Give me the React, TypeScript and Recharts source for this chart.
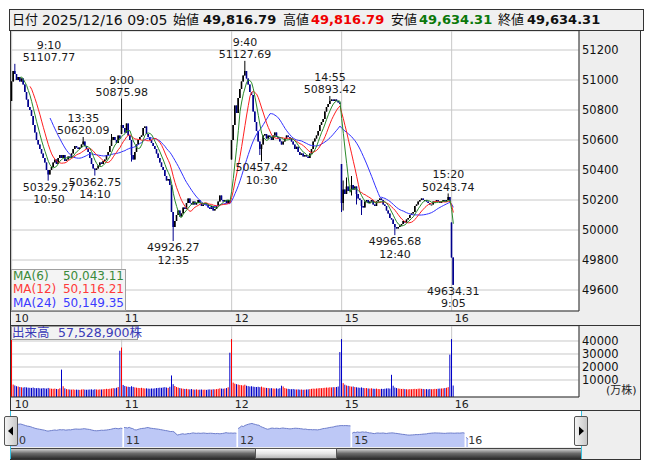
import {
    ComposedChart,
    AreaChart,
    Area,
    Bar,
    Line,
    XAxis,
    YAxis,
    CartesianGrid,
    ReferenceDot
} from 'recharts'

const FONT = '"DejaVu Sans", "Noto Sans CJK JP", sans-serif'
const BARS_PER_DAY = 66

const dayLabels = ['10', '11', '12', '15', '16']
const dayTicks = [0, 66, 132, 198, 264]

// 5-minute closes per day (9:00 .. 15:25)
const day10Close = [
    50990, 51060, 51040, 51000, 51020, 50990, 51010, 50970, 50920, 50870,
    50820, 50800, 50760, 50700, 50650, 50600, 50570, 50540, 50510, 50480,
    50450, 50400, 50370, 50400, 50420, 50450, 50470, 50440, 50480, 50500,
    50480, 50500, 50460, 50470, 50490, 50480, 50510, 50540, 50560, 50550,
    50540, 50550, 50570, 50590, 50560, 50540, 50520, 50480, 50440, 50410,
    50400, 50410, 50430, 50450, 50440, 50460, 50470, 50500, 50520, 50560,
    50600, 50620, 50600, 50580, 50630, 50610
]
const day11Close = [
    50700, 50680, 50650, 50710, 50630, 50600, 50500, 50470, 50520, 50570,
    50600, 50620, 50630, 50680, 50690, 50640, 50620, 50600, 50580, 50560,
    50540, 50510, 50480, 50450, 50420, 50400, 50360, 50330, 50340, 50300,
    50120, 50020, 50060, 50100, 50130, 50090, 50110, 50150, 50140, 50180,
    50210, 50180, 50170, 50190, 50170, 50180, 50200, 50180, 50160, 50170,
    50180, 50170, 50150, 50140, 50160, 50130, 50140, 50160, 50190, 50230,
    50200, 50190, 50200, 50180, 50200, 50180
]
const day12Close = [
    50600, 50700, 50830, 50780, 50880, 50940, 50990, 51030, 51060, 51010,
    50970, 50920, 50900, 50790, 50720, 50660, 50590, 50540, 50570, 50630,
    50640, 50610, 50630, 50620, 50600, 50630, 50650, 50620, 50610, 50590,
    50570, 50590, 50610, 50630, 50620, 50610, 50590, 50570, 50540, 50555,
    50520, 50500, 50510, 50490, 50500, 50490, 50480, 50510, 50540, 50590,
    50610, 50630, 50660, 50700, 50720, 50740, 50790, 50820, 50840, 50860,
    50870, 50860, 50870, 50860, 50850, 50840
]
const day15Close = [
    50180, 50270, 50240, 50290, 50260, 50270, 50300, 50270, 50290, 50240,
    50210, 50200, 50160, 50150, 50190, 50200, 50180, 50190, 50200, 50170,
    50160, 50190, 50200, 50210, 50200, 50170, 50160, 50130, 50110, 50080,
    50070, 50040, 50020, 50010, 50020, 50030, 50040, 50060, 50050, 50070,
    50080, 50100, 50110, 50120, 50160, 50170, 50190, 50200, 50210, 50200,
    50200, 50190, 50180, 50170, 50170, 50190, 50190, 50200, 50190, 50180,
    50190, 50200, 50190, 50200, 50220, 50190
]
const day16Close = [49816.79, 49634.31]
const dayOpen = [50860, 50640, 50470, 50440, 50050]

// volume, 万株
const day10Vol = [
    41500, 6500, 5800, 5200, 5000, 4600, 4400, 4200, 4500, 4300,
    4100, 4000, 3900, 4200, 3800, 3700, 3900, 3600, 3500, 3800,
    3600, 3400, 3900, 3500, 3300, 3200, 3400, 3100, 3000, 3600,
    18000, 5200, 3600, 3000, 2800, 2700, 2600, 2800, 2500, 2600,
    2500, 2400, 2700, 2900, 2600, 2500, 2600, 2700, 2800, 2500,
    2900, 2700, 2600, 2800, 2700, 2900, 3000, 3200, 3100, 3300,
    3500, 3800, 3600, 4000, 4600, 32500
]
const day11Vol = [
    35000, 6200, 5400, 5000, 4800, 4600, 5200, 4700, 4300, 4100,
    3900, 3800, 4000, 3700, 3500, 3600, 3400, 3300, 3500, 3400,
    3600, 3800, 3900, 4100, 4000, 4300, 4500, 4200, 3900, 4800,
    13500, 6800, 5400, 4600, 4200, 3800, 3500, 3300, 3100, 3200,
    2900, 2800, 3000, 2700, 2600, 2800, 2500, 2600, 2700, 2500,
    2600, 2400, 2700, 2800, 2600, 2900, 2800, 3000, 3200, 3600,
    3400, 3300, 3500, 3800, 4400, 31000
]
const day12Vol = [
    41500, 8000, 7200, 6800, 6500, 6200, 6000, 5800, 6400, 5600,
    5300, 5000, 5200, 4900, 4700, 4600, 4800, 4500, 4900, 4300,
    4100, 3900, 3800, 3600, 3700, 3500, 3400, 3600, 3300, 3700,
    5600, 5000, 3800, 3400, 3200, 3000, 2900, 3100, 2800, 2700,
    2800, 2600, 2700, 2500, 2600, 2700, 2800, 3000, 3200, 3400,
    3300, 3500, 3600, 3800, 3700, 3900, 4000, 4200, 4100, 4400,
    4300, 4500, 4400, 4600, 5000, 31500
]
const day15Vol = [
    41500, 7600, 6400, 5800, 5500, 5200, 4900, 5000, 4600, 4400,
    4200, 4000, 4300, 3900, 3700, 3800, 3500, 3400, 3600, 3300,
    3200, 3400, 3100, 3000, 3200, 3100, 3300, 3500, 3600, 3400,
    14000, 5600, 4200, 3800, 3500, 3300, 3100, 3200, 3000, 2900,
    2800, 3000, 2900, 3100, 3200, 3000, 3300, 3400, 3200, 3100,
    2900, 3000, 2800, 3100, 2900, 3000, 3200, 3100, 3300, 3400,
    3500, 3600, 3800, 4000, 4500, 29500
]
const day16Vol = [41500, 5753]

const priceTicks = [49600, 49800, 50000, 50200, 50400, 50600, 50800, 51000, 51200]
const volumeTicks = [10000, 20000, 30000, 40000]

// labelled highs / lows (day index, bar index)
const extremes = [
    { d: 0, i: 2, kind: 'high', time: '9:10', value: 51107.77 },
    { d: 0, i: 22, kind: 'low', time: '10:50', value: 50329.27 },
    { d: 0, i: 43, kind: 'high', time: '13:35', value: 50620.09 },
    { d: 0, i: 50, kind: 'low', time: '14:10', value: 50362.75 },
    { d: 1, i: 0, kind: 'high', time: '9:00', value: 50875.98 },
    { d: 1, i: 31, kind: 'low', time: '12:35', value: 49926.27 },
    { d: 2, i: 8, kind: 'high', time: '9:40', value: 51127.69 },
    { d: 2, i: 18, kind: 'low', time: '10:30', value: 50457.42 },
    { d: 2, i: 59, kind: 'high', time: '14:55', value: 50893.42 },
    { d: 3, i: 32, kind: 'low', time: '12:40', value: 49965.68 },
    { d: 3, i: 64, kind: 'high', time: '15:20', value: 50243.74 },
    { d: 4, i: 1, kind: 'low', time: '9:05', value: 49634.31 }
]
const extraWicks = [
    { d: 0, i: 60, high: 50640 },
    { d: 1, i: 6, low: 50456 },
    { d: 2, i: 17, low: 50500 },
    { d: 3, i: 0, low: 50120 },
    { d: 3, i: 1, high: 50330, low: 50130 },
    { d: 3, i: 3, high: 50350 },
    { d: 3, i: 6, high: 50360, low: 50230 },
    { d: 3, i: 9, low: 50170 },
    { d: 3, i: 12, low: 50100 }
]

const maLegend = [
    { name: 'MA(6)', value: '50,043.11', color: '#3a8a3a' },
    { name: 'MA(12)', value: '50,116.21', color: '#ff3a3a' },
    { name: 'MA(24)', value: '50,149.35', color: '#3a3aff' }
]

const closesByDay = [day10Close, day11Close, day12Close, day15Close, day16Close]
const volsByDay = [day10Vol, day11Vol, day12Vol, day15Vol, day16Vol]

const candles: any[] = []
closesByDay.forEach((closes, d) => {
    closes.forEach((close, i) => {
        const open = i === 0 ? dayOpen[d] : closes[i - 1]
        candles.push({
            s: d * BARS_PER_DAY + i,
            open,
            close,
            high: Math.max(open, close),
            low: Math.min(open, close),
            vol: volsByDay[d][i],
            up: close >= open
        })
    })
})
const findCandle = (d: number, i: number) => candles.find(c => c.s === d * BARS_PER_DAY + i)
extremes.forEach(e => {
    const c = findCandle(e.d, e.i)
    if (e.kind === 'high') c.high = Math.max(c.high, e.value)
    else c.low = Math.min(c.low, e.value)
})
extraWicks.forEach((w: any) => {
    const c = findCandle(w.d, w.i)
    if (w.high) c.high = Math.max(c.high, w.high)
    if (w.low) c.low = Math.min(c.low, w.low)
})
;[6, 12, 24].forEach(n => {
    candles.forEach((c, idx) => {
        if (idx < n - 1) return
        let sum = 0
        for (let k = idx - n + 1; k <= idx; k++) sum += candles[k].close
        c['ma' + n] = sum / n
    })
})

const navData: any[] = []
candles.forEach(c => {
    if (c.s > 0 && c.s % BARS_PER_DAY === 0) navData.push({ s: c.s - 0.5, v: null })
    navData.push({ s: c.s, v: c.close })
})

const VOL_MIN = -3077
const VOL_MAX = 51538

const CandleShape = (props: any) => {
    const { x, y, width, height, payload } = props
    const cx = x + width / 2
    const span = payload.high - payload.low
    const yOf = (v: number) => (span > 0 ? y + ((payload.high - v) / span) * height : y)
    const top = yOf(Math.max(payload.open, payload.close))
    const bot = yOf(Math.min(payload.open, payload.close))
    const color = payload.up ? '#000000' : '#00008c'
    return (
        <g>
            <line x1={cx} x2={cx} y1={y} y2={y + height} stroke={color} strokeWidth={1} />
            <rect x={cx - 0.8} y={top} width={1.6} height={Math.max(bot - top, 1)} fill={color} />
        </g>
    )
}

const VolumeShape = (props: any) => {
    const { x, y, width, height, payload } = props
    const cx = x + width / 2
    return <rect x={cx - 0.5} y={y} width={1} height={height} fill={payload.up ? '#ff0000' : '#0000c8'} />
}

const DayTick = (props: any) => {
    const { x, y, payload } = props
    return (
        <text x={x + 3} y={y + 10.5} fontSize={11} fill="#222" fontFamily={FONT}>
            {dayLabels[dayTicks.indexOf(payload.value)]}
        </text>
    )
}

const NavTick = (props: any) => {
    const { x, y, payload } = props
    return (
        <text x={x + 2} y={y - 3} fontSize={11} fill="#333" fontFamily={FONT}>
            {dayLabels[dayTicks.indexOf(payload.value)]}
        </text>
    )
}

const makeExtremeLabel = (e: any) => (props: any) => {
    const { cx, cy } = props
    const half = 27
    const x = Math.max(cx, 11 + half)
    const first = e.kind === 'high' ? e.time : e.value.toFixed(2)
    const second = e.kind === 'high' ? e.value.toFixed(2) : e.time
    const y1 = e.kind === 'high' ? cy - 15 : cy + 10
    return (
        <g>
            <text x={x} y={y1} textAnchor="middle" fontSize={11} fill="#1a1a1a" fontFamily={FONT}>
                {first}
            </text>
            <text x={x} y={y1 + 12.5} textAnchor="middle" fontSize={11} fill="#1a1a1a" fontFamily={FONT}>
                {second}
            </text>
        </g>
    )
}

const abs = (left: number, top: number, width: number, height: number, extra: any = {}) => ({
    position: 'absolute' as const,
    left,
    top,
    width,
    height,
    boxSizing: 'border-box' as const,
    ...extra
})

const headerItems = [
    { text: '日付', left: 12, size: 13, bold: false, color: '#111' },
    { text: '2025/12/16 09:05', left: 42, size: 14, bold: false, color: '#111' },
    { text: '始値', left: 173, size: 13, bold: false, color: '#111' },
    { text: '49,816.79', left: 203, size: 13, bold: true, color: '#111' },
    { text: '高値', left: 283, size: 13, bold: false, color: '#111' },
    { text: '49,816.79', left: 311, size: 13, bold: true, color: '#f00000' },
    { text: '安値', left: 391, size: 13, bold: false, color: '#111' },
    { text: '49,634.31', left: 419, size: 13, bold: true, color: '#0a780a' },
    { text: '終値', left: 498, size: 13, bold: false, color: '#111' },
    { text: '49,634.31', left: 527, size: 13, bold: true, color: '#111' }
]

const axisTick = { fontSize: 11.5, fill: '#111', fontFamily: FONT }

export default function App() {
    return (
        <div style={{ position: 'absolute', left: 0, top: 0, width: 653, height: 470, fontFamily: FONT }}>
            {/* header */}
            <div style={abs(9, 9, 635, 22, { background: '#f0f0f0', border: '1px solid #333' })} />
            {headerItems.map((h, k) => (
                <span
                    key={k}
                    style={{
                        position: 'absolute',
                        left: h.left,
                        top: 10,
                        lineHeight: '20px',
                        fontSize: h.size,
                        fontWeight: h.bold ? 'bold' : 'normal',
                        color: h.color,
                        whiteSpace: 'nowrap'
                    }}
                >
                    {h.text}
                </span>
            ))}

            {/* frame and panels */}
            <div style={abs(10, 30, 631, 430, { background: '#eeeeee', border: '1px solid #333' })} />
            <div style={abs(11, 31, 568, 280, { background: '#ffffff' })} />
            <div style={abs(10, 325, 631, 1, { background: '#333' })} />
            <div style={abs(11, 326, 568, 71, { background: '#ffffff' })} />
            <div style={abs(10, 410, 631, 1, { background: '#333' })} />
            <div style={abs(11, 411, 570, 36, { background: '#ffffff' })} />

            {/* price chart */}
            <div style={abs(11, 31, 629, 294)}>
                <ComposedChart width={629} height={294} data={candles} margin={{ top: 0, right: 0, bottom: 0, left: 0 }}>
                    <CartesianGrid stroke="#c8c8c8" />
                    <XAxis
                        dataKey="s"
                        type="number"
                        domain={[-0.4, 340.4]}
                        ticks={dayTicks}
                        interval={0}
                        allowDataOverflow
                        height={14}
                        tickLine={false}
                        tickSize={0}
                        tickMargin={0}
                        axisLine={{ stroke: '#333' }}
                        tick={DayTick}
                    />
                    <YAxis
                        orientation="right"
                        type="number"
                        width={61}
                        domain={[49460, 51326.7]}
                        ticks={priceTicks}
                        interval={0}
                        allowDataOverflow
                        tickLine={false}
                        tickSize={0}
                        tickMargin={3}
                        axisLine={{ stroke: '#333' }}
                        tick={axisTick}
                    />
                    <Bar dataKey={(d: any) => [d.low, d.high]} shape={CandleShape} isAnimationActive={false} />
                    <Line dataKey="ma24" stroke="#3333ff" strokeWidth={1} dot={false} isAnimationActive={false} />
                    <Line dataKey="ma12" stroke="#ff2020" strokeWidth={1} dot={false} isAnimationActive={false} />
                    <Line dataKey="ma6" stroke="#2a8a2a" strokeWidth={1} dot={false} isAnimationActive={false} />
                    {extremes.map((e, k) => (
                        <ReferenceDot
                            key={k}
                            x={e.d * BARS_PER_DAY + e.i}
                            y={e.value}
                            r={0}
                            ifOverflow="visible"
                            shape={makeExtremeLabel(e)}
                        />
                    ))}
                </ComposedChart>
            </div>

            {/* MA legend */}
            <div style={abs(11, 269, 115, 42, { background: 'rgba(243,243,243,0.95)', border: '1px solid #a0a0a0' })}>
                {maLegend.map((m, k) => (
                    <div
                        key={k}
                        style={{
                            display: 'flex',
                            justifyContent: 'space-between',
                            height: 13.3,
                            lineHeight: '13.3px',
                            fontSize: 12,
                            color: m.color,
                            padding: '0 1px 0 1px'
                        }}
                    >
                        <span>{m.name}</span>
                        <span>{m.value}</span>
                    </div>
                ))}
            </div>

            {/* volume chart */}
            <div style={abs(11, 326, 629, 84)}>
                <ComposedChart width={629} height={84} data={candles} margin={{ top: 0, right: 0, bottom: 0, left: 0 }}>
                    <CartesianGrid stroke="#c8c8c8" />
                    <XAxis
                        dataKey="s"
                        type="number"
                        domain={[-0.4, 340.4]}
                        ticks={dayTicks}
                        interval={0}
                        allowDataOverflow
                        height={13}
                        tickLine={false}
                        tickSize={0}
                        tickMargin={0}
                        axisLine={{ stroke: '#333' }}
                        tick={DayTick}
                    />
                    <YAxis
                        orientation="right"
                        type="number"
                        width={61}
                        domain={[VOL_MIN, VOL_MAX]}
                        ticks={volumeTicks}
                        interval={0}
                        allowDataOverflow
                        tickLine={false}
                        tickSize={0}
                        tickMargin={3}
                        axisLine={{ stroke: '#333' }}
                        tick={axisTick}
                    />
                    <Bar dataKey={(d: any) => [VOL_MIN, d.vol]} shape={VolumeShape} isAnimationActive={false} />
                </ComposedChart>
            </div>
            <span style={{ position: 'absolute', left: 606, top: 384, fontSize: 11, lineHeight: '14px', color: '#222' }}>
                (万株)
            </span>
            <div style={abs(11, 326, 127, 14, { background: '#f2f2f2', border: '1px solid #9a9a9a' })} />
            <span style={{ position: 'absolute', left: 12, top: 326, fontSize: 12.5, lineHeight: '14px', color: '#3b3bb8' }}>
                出来高
            </span>
            <span style={{ position: 'absolute', left: 58, top: 326, fontSize: 12.5, lineHeight: '14px', color: '#3b3bb8' }}>
                57,528,900株
            </span>

            {/* navigator */}
            <div style={abs(10, 411, 571, 37)}>
                <AreaChart width={571} height={37} data={navData} margin={{ top: 0, right: 0, bottom: 0, left: 0 }}>
                    <XAxis
                        dataKey="s"
                        type="number"
                        domain={[0, 330.4]}
                        ticks={dayTicks}
                        interval={0}
                        allowDataOverflow
                        height={1}
                        tickLine={false}
                        tickSize={0}
                        tickMargin={0}
                        axisLine={false}
                        tick={NavTick}
                    />
                    <YAxis hide type="number" domain={[48940, 52180]} allowDataOverflow />
                    <Area
                        dataKey="v"
                        type="linear"
                        stroke="#6e7ecb"
                        strokeWidth={1}
                        fill="#bdc8f6"
                        fillOpacity={1}
                        connectNulls={false}
                        dot={false}
                        isAnimationActive={false}
                    />
                </AreaChart>
            </div>
            <div style={abs(10, 411, 1, 48, { background: '#38c0e0' })} />
            <div style={abs(581, 411, 1, 48, { background: '#38c0e0' })} />
            <div
                style={abs(11, 448, 570, 11, {
                    background: 'linear-gradient(#d0d0d0, #6a6a6a 45%, #2a2a2a)',
                    borderTop: '1px solid #444'
                })}
            />
            <div
                style={abs(255, 448, 82, 11, {
                    background: 'linear-gradient(#ffffff, #e6e6e6 50%, #b8b8b8)',
                    border: '1px solid #555'
                })}
            />
            <div style={abs(10, 459, 631, 1, { background: '#333' })} />

            <div
                style={abs(4, 416, 14, 30, {
                    background: 'linear-gradient(90deg, #f4f4f4, #c8c8c8)',
                    border: '1px solid #555',
                    borderRadius: 2
                })}
            >
                <svg width={12} height={28}>
                    <polygon points="3,14 8,9.5 8,18.5" fill="#000" />
                </svg>
            </div>
            <div
                style={abs(574, 416, 14, 30, {
                    background: 'linear-gradient(90deg, #f4f4f4, #c8c8c8)',
                    border: '1px solid #555',
                    borderRadius: 2
                })}
            >
                <svg width={12} height={28}>
                    <polygon points="9,14 4,9.5 4,18.5" fill="#000" />
                </svg>
            </div>
        </div>
    )
}
